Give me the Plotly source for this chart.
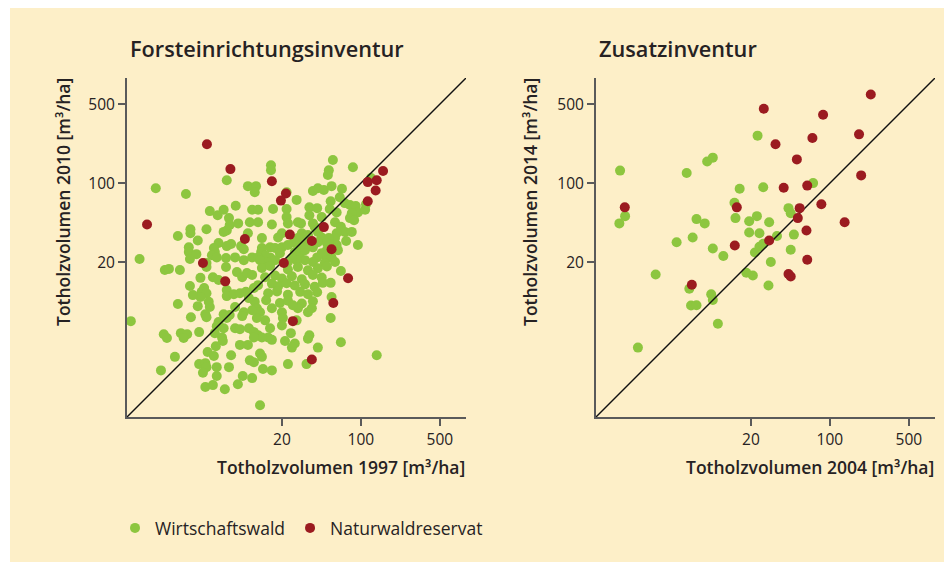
import plotly.graph_objects as go

# ---------------- data (m3/ha) ----------------
# Forsteinrichtungsinventur: Wirtschaftswald (1997 -> 2010)
wald1_x = [
    6.5, 1.53, 2.83, 10, 11.8, 11.5, 4.6, 5.4, 6.1, 6.8,
    7.8, 10.9, 6.5, 6.1, 6.9, 8.2, 10.4, 4.3, 3.1, 3.1,
    2.4, 3.6, 10, 5.5, 6.5, 7.1, 8.7, 9.2, 3.0, 3.0,
    5.0, 5.1, 4.8, 3.5, 1.1, 3.07, 5.3, 6.4, 7.7, 9.2,
    10.9, 4.3,
    56.5, 85, 16, 16, 52, 51, 22, 27, 37.6, 41.6,
    47, 55, 68, 54, 65, 72, 80, 90, 94, 83,
    80, 87, 123, 109, 111, 16.7, 22, 22, 22.6, 12.3,
    35, 41, 35, 53, 61, 45, 27.7, 29.5, 37.6, 39,
    59, 66.5, 72, 83, 12.3, 16.3, 61, 59, 61, 62.6,
    54, 20, 18.5, 13.3, 13.3, 13.1, 30, 32, 27.7, 25.5,
    28.9, 32, 34, 41.6, 45, 41.6, 52, 50, 50, 94,
    74, 15.7, 17.4, 20, 19.2, 15.7, 14.2, 12.3, 22.6, 26,
    29, 32, 37.6, 41, 45, 50, 55, 59, 48, 37.6,
    32, 27, 24.5, 22.6, 17.4, 14.7, 12.8,
    13.3, 15.7, 22.6, 27.7, 34, 41.6, 50,
    14.2, 17.4, 20, 24.5, 30, 37.6, 45,
    12.3, 16.3, 18.5, 22, 26, 32, 39, 46,
    15.1, 18.1, 22.6, 29, 34, 41,
    11.5, 14.5, 19.2, 22.6, 30, 37.6,
    54, 55, 66.5,
    54, 66.5, 138, 34, 36.8, 27, 24, 35, 34, 21.3,
    26, 24.5, 41.6, 33, 22.6, 13.6, 16.3, 12.8, 13.3, 12.8,
    15.7, 15.1, 16.3, 12.3, 13.3, 14.2, 16.3, 20, 20.4, 20,
    12, 12.8, 12, 27.7, 25,
    1.84, 2.0, 2.5, 4.3, 3.8, 4.9, 5.5, 6.4, 8.0, 8.9,
    9.8, 10.9, 3.07, 4.1, 3.9, 4.3, 3.8, 6.5, 6.5, 7.5,
    8.5, 9.6, 10.2, 11.3, 3.26, 2.4, 3.6, 4.5, 4.6, 7.7,
    9.2, 8.9, 10.9, 4.2, 4.3, 3.13, 0.92, 6.1, 6.5, 6.9,
    5.5, 5.3, 7.7, 8.5, 10.2, 11.3, 6.1, 5.1, 5.9, 3.7,
    1.8, 1.92, 2.55, 2.9, 2.7, 6.0, 5.2, 8.5, 10, 11.3,
    4.4, 5.0, 7.1, 2.26, 10.4, 11.3, 3.7, 4.2, 4.3, 5.3,
    6.8, 1.7, 4.0, 5.3, 9.0, 10.9, 4.2, 4.9, 6.25, 8.15,
]
wald1_y = [
    106, 90, 80, 94, 94, 83, 56.5, 52, 58, 49,
    63, 58, 38, 37, 42.5, 44, 45, 39, 39, 36,
    34, 31, 36, 29.5, 27.7, 28.9, 27.7, 26, 27, 24.5,
    26.6, 24.5, 23, 23.5, 21.3, 21.3, 22, 21.7, 22, 20.8,
    22, 19.6,
    160, 138, 144, 130, 130, 118, 83, 71, 85, 90,
    87, 94, 89, 69, 75, 66.5, 64, 62.6, 55, 54,
    49, 47, 111, 58, 65, 59, 59, 50, 44, 58,
    61, 60, 52, 59, 55, 50, 45, 44, 44, 41,
    45, 41, 37, 37, 45, 43, 36, 32.6, 28.3, 25.5,
    27.7, 36, 33, 32.6, 26.6, 24.5, 36, 33, 32.6, 30,
    28.3, 29.5, 34.7, 37, 33, 30, 32.6, 29.5, 25.5, 28.3,
    30.7, 27, 26.6, 27, 24, 22, 23, 22, 28.3, 24.5,
    24, 25.5, 27, 22, 24, 21.7, 22, 20, 19.6, 20,
    20.8, 20.8, 21.7, 20, 20.8, 20, 20.8,
    17.7, 18.5, 17.2, 18.1, 16.9, 17.6, 18.3,
    14.7, 15.2, 14.3, 15.0, 14.1, 15.4, 14.6,
    12.5, 12.9, 12.2, 13.0, 12.4, 12.7, 12.1, 13.1,
    10.6, 11.0, 10.3, 10.9, 10.4, 10.8,
    8.9, 9.2, 8.7, 9.1, 8.6, 9.0,
    13.1, 9.8, 16.7,
    6.4, 3.9, 3.0, 7.2, 7.8, 6.1, 4.7, 4.5, 4.2, 4.0,
    3.8, 3.5, 3.5, 2.5, 2.5, 2.26, 2.2, 3.1, 2.9, 1.08,
    5.2, 4.3, 4.1, 4.5, 4.3, 6.1, 7.8, 7.2, 6.4, 5.5,
    7.8, 7.2, 6.4, 7.8, 8.3,
    17, 17.4, 17, 18.1, 14.5, 14.7, 13.9, 18.1, 16.3, 14.7,
    16, 15.4, 12.3, 11.8, 10.9, 10.6, 9.8, 11.3, 10, 10.4,
    10.6, 10.9, 9.6, 11.8, 10.2, 8.5, 8.15, 8.9, 8.0, 8.0,
    7.2, 6.65, 7.5, 6.9, 6.5, 6.5, 6.0, 6.9, 6.4, 6.8,
    5.9, 5.4, 5.2, 5.1, 5.2, 4.8, 5.2, 4.7, 4.3, 4.8,
    4.6, 4.26, 4.7, 4.6, 4.26, 4.0, 3.6, 3.7, 3.7, 4.3,
    3.2, 2.95, 3.0, 2.9, 2.7, 2.6, 2.5, 2.55, 2.35, 2.35,
    2.35, 2.2, 2.1, 1.96, 1.96, 1.88, 1.57, 1.63, 1.5, 1.66,
]

# Forsteinrichtungsinventur: Naturwaldreservat
nwr1_x = [4.34, 7.0, 1.28, 9.4, 4.0, 6.3, 16.3, 21.7, 19.6, 115,
          138, 157, 135, 115, 23.5, 47, 36.8, 55, 20.8, 77,
          57, 25, 36.8]
nwr1_y = [221, 133, 43, 32, 19.6, 13.5, 104, 81, 70, 102,
          106, 128, 86, 69, 35, 40.8, 30.7, 26, 19.6, 14.4,
          8.7, 6.0, 2.75]

# Zusatzinventur: Wirtschaftswald (2004 -> 2014)
wald2_x = [22.9, 8.2, 9.2, 1.39, 5.4, 71, 15.9, 25.7, 14.3, 1.54,
           1.37, 6.6, 7.8, 14.6, 19.3, 22.6, 29, 43, 45, 19.3,
           23.8, 34, 48, 6.1, 4.4, 9.2, 11.4, 21.7, 23.8, 25.7,
           45, 30, 2.87, 5.7, 18.2, 20.8, 28.6, 8.9, 9.2, 5.9,
           6.6, 10.2, 2.0]
wald2_y = [263, 155, 168, 129, 123, 100, 89, 92, 67, 51,
           44, 48, 44, 49, 46, 51, 45, 60, 54, 36.5,
           36, 34, 35, 33, 30, 26.4, 22.6, 24.3, 27.3, 29,
           25.7, 20, 15.5, 11.6, 16.1, 15.2, 12.4, 10.4, 9.25, 8.25,
           8.3, 5.7, 3.5]

# Zusatzinventur: Naturwaldreservat
nwr2_x = [230, 26, 87, 181, 70, 33, 51, 189, 39, 63,
          1.53, 15, 54, 84, 52, 135, 62, 14.4, 29, 63,
          43, 45, 6.0]
nwr2_y = [608, 455, 403, 270, 251, 221, 162, 117, 91, 95,
          61, 61, 60, 65, 49, 45, 38, 28, 31, 21,
          15.7, 14.9, 12.6]

tick_vals = [20, 100, 500]
tick_text = ["20", "100", "500"]
diag = [0.1, 10000]          # 1:1 line (y = x)

series_names = ["Wirtschaftswald", "Naturwaldreservat"]
panel_titles = ["Forsteinrichtungsinventur", "Zusatzinventur"]
x_titles = ["Totholzvolumen 1997 [m³/ha]", "Totholzvolumen 2004 [m³/ha]"]
y_titles = ["Totholzvolumen 2010 [m³/ha]", "Totholzvolumen 2014 [m³/ha]"]

# ---------------- style ----------------
OFF = 8                      # page body margin of the browser
W, H = 952 - OFF, 562 - OFF  # figure size so that the page is exactly filled
GREEN = "#8dc63f"
RED = "#9b1b20"
BEIGE = "#fdefc8"
TXT = "#262223"
AX = "#5a5a5a"
FONT = "Open Sans"


def fx(p):
    return (p - OFF) / W


def fy(p):
    return 1 - (p - OFF) / H


fig = go.Figure()

panels = [
    dict(wx=wald1_x, wy=wald1_y, rx=nwr1_x, ry=nwr1_y, xa="x", ya="y", leg=True),
    dict(wx=wald2_x, wy=wald2_y, rx=nwr2_x, ry=nwr2_y, xa="x2", ya="y2", leg=False),
]
for p in panels:
    fig.add_trace(go.Scatter(
        x=p["wx"], y=p["wy"], mode="markers", name=series_names[0],
        legendgroup="w", showlegend=p["leg"],
        marker=dict(color=GREEN, size=10, line=dict(width=0)),
        xaxis=p["xa"], yaxis=p["ya"]))
    fig.add_trace(go.Scatter(
        x=diag, y=diag, mode="lines", showlegend=False, hoverinfo="skip",
        line=dict(color="#111111", width=1.4),
        xaxis=p["xa"], yaxis=p["ya"]))
    fig.add_trace(go.Scatter(
        x=p["rx"], y=p["ry"], mode="markers", name=series_names[1],
        legendgroup="r", showlegend=p["leg"],
        marker=dict(color=RED, size=10, line=dict(width=0)),
        xaxis=p["xa"], yaxis=p["ya"]))

RANGE = [-0.07, 2.93]
axis_common = dict(
    type="log", range=RANGE, tickmode="array", tickvals=tick_vals, ticktext=tick_text,
    showgrid=False, zeroline=False, showline=True, linecolor=AX, linewidth=2,
    ticks="outside", ticklen=7, tickwidth=1.5, tickcolor=AX,
    tickfont=dict(family=FONT, size=15.5, color=TXT), mirror=False, fixedrange=True,
)

ydom = [fy(417), fy(78)]
fig.update_layout(
    width=W, height=H,
    margin=dict(l=0, r=0, t=0, b=0),
    paper_bgcolor="white",
    plot_bgcolor="white",
    font=dict(family=FONT, color=TXT),
    xaxis=dict(axis_common, domain=[fx(127), fx(466)], anchor="y"),
    yaxis=dict(axis_common, domain=ydom, anchor="x"),
    xaxis2=dict(axis_common, domain=[fx(596), fx(935)], anchor="y2"),
    yaxis2=dict(axis_common, domain=ydom, anchor="x2"),
    showlegend=True,
    legend=dict(orientation="h", x=fx(115), xanchor="left", y=fy(528), yanchor="middle",
                font=dict(family=FONT, size=17.5, color=TXT), bgcolor="rgba(0,0,0,0)",
                itemclick=False, itemdoubleclick=False),
    shapes=[dict(type="rect", xref="paper", yref="paper", x0=fx(10), x1=fx(952),
                 y0=0, y1=fy(8), fillcolor=BEIGE, line=dict(width=0), layer="below")],
)

ann = []
title_x = [128, 597]
ytitle_x = [63, 530]
xtitle_r = [467, 936]
for i in range(2):
    ann.append(dict(text=panel_titles[i], xref="paper", yref="paper", x=fx(title_x[i]),
                    y=fy(49), xanchor="left", yanchor="middle", showarrow=False,
                    font=dict(family=FONT, size=21.7, color=TXT, weight=600)))
    ann.append(dict(text=y_titles[i], xref="paper", yref="paper", x=fx(ytitle_x[i]),
                    y=fy(76), xanchor="center", yanchor="top", textangle=-90, showarrow=False,
                    font=dict(family=FONT, size=17.5, color=TXT, weight=600)))
    ann.append(dict(text=x_titles[i], xref="paper", yref="paper", x=fx(xtitle_r[i]),
                    y=fy(467), xanchor="right", yanchor="middle", showarrow=False,
                    font=dict(family=FONT, size=17.5, color=TXT, weight=600)))
fig.update_layout(annotations=ann)

fig.write_html("out.html")
